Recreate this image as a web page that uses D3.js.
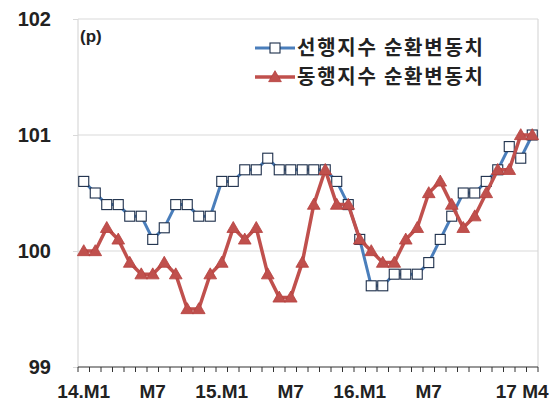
<!DOCTYPE html>
<html>
<head>
<meta charset="utf-8">
<script src="https://cdn.jsdelivr.net/npm/d3@7"></script>
<style>
  html, body { margin: 0; padding: 0; background: #fff; }
  svg { display: block; }
</style>
</head>
<body>
<svg id="chart" width="554" height="411"></svg>
<script>
// Monthly periods 2014.01 – 2017.04
const months = d3.range(40);
const tickLabels = [
  { i: 0, text: "14.M1" },
  { i: 6, text: "M7" },
  { i: 12, text: "15.M1" },
  { i: 18, text: "M7" },
  { i: 24, text: "16.M1" },
  { i: 30, text: "M7" },
  { i: 39, text: "17 M4" }
];
const yTicks = [99, 100, 101, 102];

// 선행지수 순환변동치 (leading composite index, cyclical component)
const leading = [
  100.6, 100.5, 100.4, 100.4, 100.3, 100.3, 100.1, 100.2, 100.4, 100.4,
  100.3, 100.3, 100.6, 100.6, 100.7, 100.7, 100.8, 100.7, 100.7, 100.7,
  100.7, 100.7, 100.6, 100.4, 100.1, 99.7, 99.7, 99.8, 99.8, 99.8,
  99.9, 100.1, 100.3, 100.5, 100.5, 100.6, 100.7, 100.9, 100.8, 101.0
];
// 동행지수 순환변동치 (coincident composite index, cyclical component)
const coincident = [
  100.0, 100.0, 100.2, 100.1, 99.9, 99.8, 99.8, 99.9, 99.8, 99.5,
  99.5, 99.8, 99.9, 100.2, 100.1, 100.2, 99.8, 99.6, 99.6, 99.9,
  100.4, 100.7, 100.4, 100.4, 100.1, 100.0, 99.9, 99.9, 100.1, 100.2,
  100.5, 100.6, 100.4, 100.2, 100.3, 100.5, 100.7, 100.7, 101.0, 101.0
];
const seriesNames = ["선행지수 순환변동치", "동행지수 순환변동치"];

const svg = d3.select("#chart");
const plotL = 78, plotR = 538, plotT = 19, plotB = 367;

const x = d3.scaleBand().domain(months).range([plotL, plotR]);
const cx = i => x(i) + x.bandwidth() / 2;
const y = d3.scaleLinear().domain([99, 102]).range([plotB, plotT]);

const numFont = "'Liberation Sans', Arial, sans-serif";
const krFont = "'Noto Sans CJK KR', 'Noto Sans', sans-serif";

// gridlines
svg.append("g").selectAll("line").data(yTicks.filter(v => v > 99)).join("line")
  .attr("x1", plotL).attr("x2", plotR)
  .attr("y1", d => y(d)).attr("y2", d => y(d))
  .attr("stroke", "#d9d9d9").attr("stroke-width", 1.2);

// plot frame (left and right edges)
svg.append("line").attr("x1", plotL).attr("x2", plotL).attr("y1", plotT).attr("y2", plotB)
  .attr("stroke", "#d9d9d9").attr("stroke-width", 1.2);
svg.append("line").attr("x1", plotR).attr("x2", plotR).attr("y1", plotT).attr("y2", plotB)
  .attr("stroke", "#d9d9d9").attr("stroke-width", 1.2);

// y axis
const yAxis = d3.axisLeft(y).tickValues(yTicks).tickSize(5).tickPadding(22).tickFormat(d3.format("d"));
const yg = svg.append("g").attr("transform", `translate(${plotL},0)`).call(yAxis);
yg.select(".domain").remove();
yg.selectAll(".tick line").attr("stroke", "#d9d9d9");
yg.selectAll(".tick text")
  .attr("font-family", numFont).attr("font-size", 20).attr("font-weight", "bold")
  .attr("fill", "#222");

// x axis: tick at every month boundary
const xg = svg.append("g").attr("transform", `translate(0,${plotB})`);
xg.append("line").attr("x1", plotL).attr("x2", plotR).attr("y1", 0).attr("y2", 0)
  .attr("stroke", "#333").attr("stroke-width", 1.2);
xg.selectAll("line.tk").data(d3.range(41)).join("line").attr("class", "tk")
  .attr("x1", d => plotL + d * x.step()).attr("x2", d => plotL + d * x.step())
  .attr("y1", 0).attr("y2", 5).attr("stroke", "#333").attr("stroke-width", 1);
xg.selectAll("text").data(tickLabels).join("text")
  .attr("x", d => cx(d.i)).attr("y", 31)
  .attr("text-anchor", "middle")
  .attr("font-family", numFont).attr("font-size", 19).attr("font-weight", "bold")
  .attr("fill", "#222")
  .text(d => d.text)
  .each(function () {
    // keep the last label inside the chart
    const bb = this.getBBox();
    const over = bb.x + bb.width - 549;
    if (over > 0) d3.select(this).attr("x", +d3.select(this).attr("x") - over);
  });

// unit label
svg.append("text").attr("x", 80).attr("y", 42)
  .attr("font-family", numFont).attr("font-size", 17).attr("font-weight", "bold")
  .attr("fill", "#222").text("(p)");

const line = d3.line().x((d, i) => cx(i)).y(d => y(d));

// leading index
svg.append("path").datum(leading).attr("d", line)
  .attr("fill", "none").attr("stroke", "#4a7ebb").attr("stroke-width", 3).attr("stroke-linejoin", "round");
const sq = 10;
svg.append("g").selectAll("rect").data(leading).join("rect")
  .attr("x", (d, i) => cx(i) - sq / 2).attr("y", d => y(d) - sq / 2)
  .attr("width", sq).attr("height", sq)
  .attr("fill", "#fff").attr("stroke", "#1c2e4a").attr("stroke-width", 1.1);

// coincident index
svg.append("path").datum(coincident).attr("d", line)
  .attr("fill", "none").attr("stroke", "#c0504d").attr("stroke-width", 3.5).attr("stroke-linejoin", "round");
const tri = d3.symbol().type(d3.symbolTriangle).size(70);
svg.append("g").selectAll("path").data(coincident).join("path")
  .attr("d", tri)
  .attr("transform", (d, i) => `translate(${cx(i)},${y(d) + 1})`)
  .attr("fill", "#c0504d").attr("stroke", "#b5403d").attr("stroke-width", 0.8);

// legend
const lg = svg.append("g");
const legendRows = [
  { name: seriesNames[0], color: "#4a7ebb", y: 48, marker: "square" },
  { name: seriesNames[1], color: "#c0504d", y: 77, marker: "triangle" }
];
legendRows.forEach(r => {
  lg.append("line").attr("x1", 255).attr("x2", 295).attr("y1", r.y).attr("y2", r.y)
    .attr("stroke", r.color).attr("stroke-width", r.marker === "square" ? 3 : 3.5);
  if (r.marker === "square") {
    lg.append("rect").attr("x", 275 - sq / 2).attr("y", r.y - sq / 2).attr("width", sq).attr("height", sq)
      .attr("fill", "#fff").attr("stroke", "#1c2e4a").attr("stroke-width", 1.1);
  } else {
    lg.append("path").attr("d", tri).attr("transform", `translate(275,${r.y + 1})`)
      .attr("fill", "#c0504d").attr("stroke", "#b5403d").attr("stroke-width", 0.8);
  }
  lg.append("text").attr("x", 297).attr("y", r.y).attr("dy", "0.36em")
    .attr("font-family", krFont).attr("font-size", 20).attr("font-weight", 700)
    .attr("textLength", 186).attr("lengthAdjust", "spacing")
    .attr("fill", "#222").text(r.name);
});
</script>
</body>
</html>
